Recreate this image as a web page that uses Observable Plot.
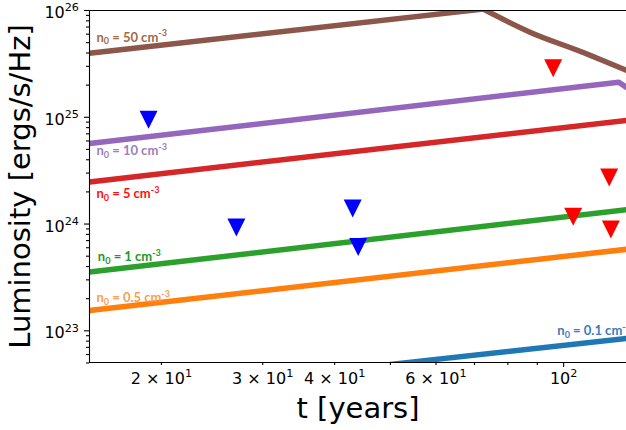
<!DOCTYPE html>
<html>
<head>
<meta charset="utf-8">
<script src="https://cdn.jsdelivr.net/npm/d3@7"></script>
<script src="https://cdn.jsdelivr.net/npm/@observablehq/plot@0.6"></script>
<style>
  html, body { margin: 0; padding: 0; background: #fff; overflow: hidden; }
</style>
</head>
<body>
<div id="chart"></div>
<script>
// ---------- data ----------
const xDomain = [15, 128.6];        // t [years]
const yDomain = [5.05e22, 1e26];    // luminosity [erg/s/Hz]

// model curves (time in years, luminosity in erg/s/Hz)
const t_n01 = [50, 128.6];                 const L_n01 = [4.85e22, 8.5e22];
const t_n05 = [15, 128.6];                 const L_n05 = [1.55e23, 5.8e23];
const t_n1  = [15, 128.6];                 const L_n1  = [3.55e23, 1.36e24];
const t_n5  = [15, 128.6];                 const L_n5  = [2.48e24, 9.35e24];
const t_n10 = [15, 124.7, 128.6];          const L_n10 = [5.67e24, 2.13e25, 1.90e25];
const t_n50 = [15, 72.5, 87.6, 107, 128.6]; const L_n50 = [3.98e25, 1.03e26, 6.23e25, 4.13e25, 2.75e25];

// upper limits (down triangles)
const tBlueLim = [19.0, 27.0, 43.0, 43.95];
const LBlueLim = [9.5e24, 9.3e23, 1.40e24, 6.1e23];
const tRedLim  = [95.9, 120.0, 103.9, 120.8];
const LRedLim  = [2.88e25, 2.73e24, 1.17e24, 8.9e23];

// curve labels
const labelTexts = ["n_0 = 0.1 cm^-3", "n_0 = 0.5 cm^-3", "n_0 = 1 cm^-3", "n_0 = 5 cm^-3", "n_0 = 10 cm^-3", "n_0 = 50 cm^-3"];
const labelT = [97.5, 15.42, 15.51, 15.42, 15.42, 15.42];
const labelL = [9.06e22, 1.85e23, 4.47e23, 1.74e24, 4.4e24, 5.1e25];

// ticks
const xMajorTicks = [100];
const xMinorTicks = [20, 30, 40, 50, 60, 70, 80, 90];
const xTickValues = [20, 30, 40, 60, 100];
const xTickLabels = ["2 × 10^1", "3 × 10^1", "4 × 10^1", "6 × 10^1", "10^2"];
const yMajorTicks = [1e23, 1e24, 1e25, 1e26];
const yMinorTicks = [5e22, 6e22, 7e22, 8e22, 9e22,
  2e23, 3e23, 4e23, 5e23, 6e23, 7e23, 8e23, 9e23,
  2e24, 3e24, 4e24, 5e24, 6e24, 7e24, 8e24, 9e24,
  2e25, 3e25, 4e25, 5e25, 6e25, 7e25, 8e25, 9e25];
const yTickLabels = ["10^23", "10^24", "10^25", "10^26"];

const xTitle = "t [years]";
const yTitle = "Luminosity [ergs/s/Hz]";

// ---------- styles ----------
const curves = [
  {t: t_n01, L: L_n01, stroke: "#1f77b4", label: "#3a7cc0"},
  {t: t_n05, L: L_n05, stroke: "#ff7f0e", label: "#fb9d52"},
  {t: t_n1,  L: L_n1,  stroke: "#2ca02c", label: "#22992a"},
  {t: t_n5,  L: L_n5,  stroke: "#d62728", label: "#ff1010"},
  {t: t_n10, L: L_n10, stroke: "#9467bd", label: "#9a7fc2"},
  {t: t_n50, L: L_n50, stroke: "#8c564b", label: "#a06c48", smoothFrom: 1}
];

const triDown = {
  draw(ctx, size) {
    const r = Math.sqrt(size / Math.PI);
    ctx.moveTo(0, r);
    ctx.lineTo(-r, -r);
    ctx.lineTo(r, -r);
    ctx.closePath();
  }
};

const marks = [];
curves.forEach(c => {
  const rows = c.t.map((t, i) => ({t, L: c.L[i]}));
  if (c.smoothFrom != null) {
    marks.push(Plot.line(rows.slice(0, c.smoothFrom + 1), {x: "t", y: "L", stroke: c.stroke, strokeWidth: 5.5, clip: true}));
    marks.push(Plot.line(rows.slice(c.smoothFrom), {x: "t", y: "L", stroke: c.stroke, strokeWidth: 5.5, clip: true, curve: "monotone-x"}));
  } else {
    marks.push(Plot.line(rows, {x: "t", y: "L", stroke: c.stroke, strokeWidth: 5.5, clip: true, strokeLinejoin: "round"}));
  }
});

const blueRows = tBlueLim.map((t, i) => ({t, L: LBlueLim[i]}));
const redRows = tRedLim.map((t, i) => ({t, L: LRedLim[i]}));
marks.push(Plot.dot(blueRows, {x: "t", y: "L", r: 9, symbol: triDown, fill: "#0000ff", stroke: "none"}));
marks.push(Plot.dot(redRows, {x: "t", y: "L", r: 9, symbol: triDown, fill: "#ff0000", stroke: "none"}));

curves.forEach((c, i) => {
  marks.push(Plot.text([i], {
    x: j => labelT[j], y: j => labelL[j], text: j => labelTexts[j],
    fill: c.label, textAnchor: "start", lineAnchor: "bottom",
    fontFamily: "Lato", fontWeight: "bold", fontSize: 13
  }));
});

// frame (left, top, bottom spines)
marks.push(Plot.ruleX([xDomain[0]], {stroke: "black", strokeWidth: 1.1}));
marks.push(Plot.ruleY([yDomain[0]], {stroke: "black", strokeWidth: 1.1}));
marks.push(Plot.ruleY([yDomain[1]], {stroke: "black", strokeWidth: 1.1}));

// axes
marks.push(Plot.axisX({ticks: xMajorTicks, tickSize: 5, tickFormat: () => "", label: null, strokeWidth: 1.1}));
marks.push(Plot.axisX({ticks: xMinorTicks, tickSize: 3, tickFormat: () => "", label: null, strokeWidth: 1.1}));
marks.push(Plot.axisX({ticks: xTickValues, tickSize: 0, tickPadding: 10, label: null,
  tickFormat: d => xTickLabels[xTickValues.indexOf(d)]}));
marks.push(Plot.axisY({ticks: yMajorTicks, tickSize: 5, tickFormat: () => "", label: null, strokeWidth: 1.1}));
marks.push(Plot.axisY({ticks: yMinorTicks, tickSize: 3, tickFormat: () => "", label: null, strokeWidth: 1.1}));
marks.push(Plot.axisY({ticks: yMajorTicks, tickSize: 0, tickPadding: 10.5, label: null, dy: 2.5,
  tickFormat: d => yTickLabels[yMajorTicks.indexOf(d)]}));

// axis titles
marks.push(Plot.text([0], {frameAnchor: "bottom", text: () => xTitle, lineAnchor: "bottom", dy: 55, fontSize: 29}));
marks.push(Plot.text([0], {frameAnchor: "left", text: () => yTitle, rotate: -90, lineAnchor: "bottom", textAnchor: "middle", dx: -60, fontSize: 29}));

const chart = Plot.plot({
  width: 626, height: 430,
  marginLeft: 89, marginRight: 0, marginTop: 10, marginBottom: 68,
  style: {fontFamily: "DejaVu Sans", fontSize: "16px", color: "black", background: "white"},
  x: {type: "log", domain: xDomain, label: null},
  y: {type: "log", domain: yDomain, label: null},
  marks
});
document.getElementById("chart").appendChild(chart);

// super/subscripts as tspans
const svgns = "http://www.w3.org/2000/svg";
chart.querySelectorAll("text").forEach(el => {
  const s = el.textContent;
  if (!/[\^_]/.test(s)) return;
  const fs = parseFloat(getComputedStyle(el).fontSize) || 16;
  const parts = s.split(/([\^_][^\s]+)/);
  while (el.firstChild) el.removeChild(el.firstChild);
  let offset = 0;
  for (const p of parts) {
    if (!p) continue;
    let target = 0, size = null, txt = p;
    if (p[0] === "^") { target = -0.42 * fs; size = 0.7 * fs; txt = p.slice(1); }
    else if (p[0] === "_") { target = 0.2 * fs; size = 0.7 * fs; txt = p.slice(1); }
    const ts = document.createElementNS(svgns, "tspan");
    const d = target - offset;
    if (d !== 0) ts.setAttribute("dy", d.toFixed(2));
    offset = target;
    if (size) ts.setAttribute("font-size", size.toFixed(2));
    ts.textContent = txt;
    el.appendChild(ts);
  }
});
</script>
</body>
</html>
